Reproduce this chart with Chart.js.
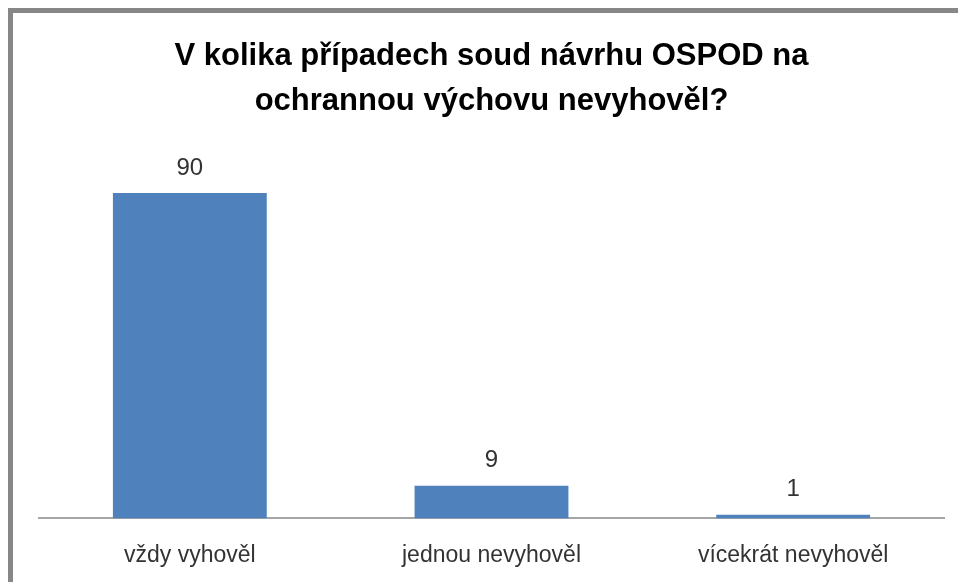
<!DOCTYPE html>
<html>
<head>
<meta charset="utf-8">
<script src="https://cdn.jsdelivr.net/npm/chart.js@4/dist/chart.umd.min.js"></script>
<style>
  html, body { margin: 0; padding: 0; background: #fff; }
  #wrap { position: relative; width: 958px; height: 582px; overflow: hidden; }
  #frame {
    position: absolute; left: 8px; top: 8px; width: 1000px; height: 620px;
    border-left: 5px solid #878787; border-top: 5px solid #878787;
    box-sizing: border-box;
  }
  canvas { position: absolute; left: 0; top: 0; }
</style>
</head>
<body>
<div id="wrap">
  <div id="frame"></div>
  <canvas id="chart" width="958" height="582"></canvas>
</div>
<script>
// chart data
const categories = ['vždy vyhověl', 'jednou nevyhověl', 'vícekrát nevyhověl'];
const counts = [90, 9, 1];
const titleLines = ['V kolika případech soud návrhu OSPOD na', 'ochrannou výchovu nevyhověl?'];

const fontFamily = '"Liberation Sans", Arial, sans-serif';
const textColor = '#333333';

// draws the number above each bar
const valueLabels = {
  id: 'valueLabels',
  afterDatasetsDraw(chart) {
    const ctx = chart.ctx;
    const meta = chart.getDatasetMeta(0);
    ctx.save();
    ctx.font = '24px ' + fontFamily;
    ctx.fillStyle = textColor;
    ctx.textAlign = 'center';
    ctx.textBaseline = 'bottom';
    meta.data.forEach((bar, i) => {
      ctx.fillText(String(counts[i]), bar.x, bar.y - 13);
    });
    ctx.restore();
  }
};

new Chart(document.getElementById('chart'), {
  type: 'bar',
  data: {
    labels: categories,
    datasets: [{
      data: counts,
      backgroundColor: '#4f81bd',
      borderWidth: 0,
      categoryPercentage: 1,
      barPercentage: 0.51
    }]
  },
  options: {
    responsive: false,
    animation: false,
    layout: { padding: { left: 39, right: 14, top: 0, bottom: -2 } },
    plugins: {
      legend: { display: false },
      tooltip: { enabled: false },
      title: {
        display: true,
        text: titleLines,
        color: '#000',
        font: { family: fontFamily, size: 31, weight: 'bold', lineHeight: 1.45 },
        padding: { top: 34, bottom: 33 }
      }
    },
    scales: {
      x: {
        grid: { display: false },
        border: { display: true, color: '#a6a6a6', width: 2 },
        ticks: { color: textColor, font: { family: fontFamily, size: 23 }, padding: 15 }
      },
      y: {
        display: false,
        min: 0,
        max: 100
      }
    }
  },
  plugins: [valueLabels]
});
</script>
</body>
</html>
